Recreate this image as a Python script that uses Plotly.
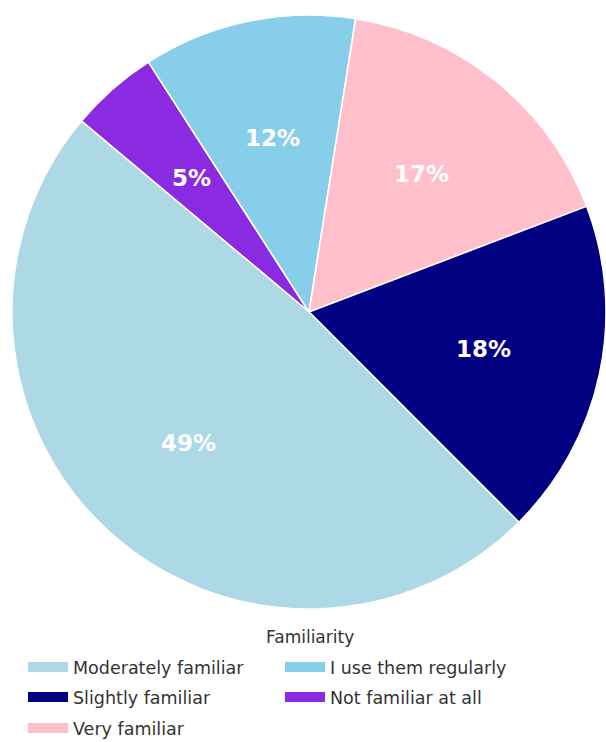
import math
import plotly.graph_objects as go

# ---- data ----
categories = ["Moderately familiar", "Slightly familiar", "Very familiar",
              "I use them regularly", "Not familiar at all"]
shares = [48.6, 18.3, 16.7, 11.6, 4.8]
colors = ["#ADD8E6", "#000080", "#FFC0CB", "#87CEEB", "#8A2BE2"]
legend_rows = [["Moderately familiar", "I use them regularly"],
               ["Slightly familiar", "Not familiar at all"],
               ["Very familiar"]]
legend_title = "Familiarity"
start_angle = 140  # degrees, counter-clockwise from 3 o'clock

# ---- layout geometry ----
W, H = 606, 742
dom_x = [12 / W, 1.0]
dom_y = [1 - 610 / H, 1 - 14 / H]
FONT = "DejaVu Sans"
TXT = "#333333"

fig = go.Figure()
fig.add_trace(go.Pie(
    labels=categories[::-1], values=shares[::-1],
    marker=dict(colors=colors[::-1], line=dict(color="white", width=1.5)),
    sort=False, direction="clockwise", rotation=90 - start_angle,
    textinfo="none", hoverinfo="label+percent", showlegend=False,
    domain=dict(x=dom_x, y=dom_y),
))

# percentage labels at 0.6 of radius, positioned from the data
cx = (dom_x[0] + dom_x[1]) / 2 * W
cy = (1 - (dom_y[0] + dom_y[1]) / 2) * H
R = min((dom_x[1] - dom_x[0]) * W, (dom_y[1] - dom_y[0]) * H) / 2
total = sum(shares)
ang = start_angle
for cat, v in zip(categories, shares):
    span = v / total * 360
    mid = math.radians(ang + span / 2)
    px = cx + 0.6 * R * math.cos(mid)
    py = cy - 0.6 * R * math.sin(mid)
    fig.add_annotation(x=px / W, y=1 - py / H, xref="paper", yref="paper",
                       xanchor="center", yanchor="middle",
                       text=f"{round(v / total * 100)}%", showarrow=False,
                       font=dict(family=FONT, size=23, color="white", weight="bold"))
    ang += span

# legend title
fig.add_annotation(x=310 / W, y=1 - 637 / H, xref="paper", yref="paper",
                   xanchor="center", yanchor="middle", showarrow=False,
                   text=legend_title, font=dict(family=FONT, size=17, color=TXT))

# legend entries, one legend per row
row_y = [667, 697, 728]
legend_names = ["legend", "legend2", "legend3"]
for r, names in enumerate(legend_rows):
    for name in names:
        c = colors[categories.index(name)]
        fig.add_trace(go.Scatter(x=[None], y=[None], mode="lines", name=name,
                                 legend=legend_names[r],
                                 line=dict(color=c, width=14), hoverinfo="skip"))

leg_common = dict(
    orientation="h", xref="container", yref="container",
    x=23 / W, xanchor="left", yanchor="middle",
    entrywidth=202, entrywidthmode="pixels", itemwidth=40,
    font=dict(family=FONT, size=17.5, color=TXT),
    bgcolor="rgba(0,0,0,0)",
)

fig.update_layout(
    width=W, height=H,
    margin=dict(l=0, r=0, t=0, b=0, autoexpand=False),
    paper_bgcolor="white", plot_bgcolor="white",
    xaxis=dict(visible=False), yaxis=dict(visible=False),
    font=dict(family=FONT, color=TXT),
    legend=dict(**leg_common, y=1 - row_y[0] / H),
    legend2=dict(**leg_common, y=1 - row_y[1] / H),
    legend3=dict(**leg_common, y=1 - row_y[2] / H),
)

fig.write_html("out.html")
